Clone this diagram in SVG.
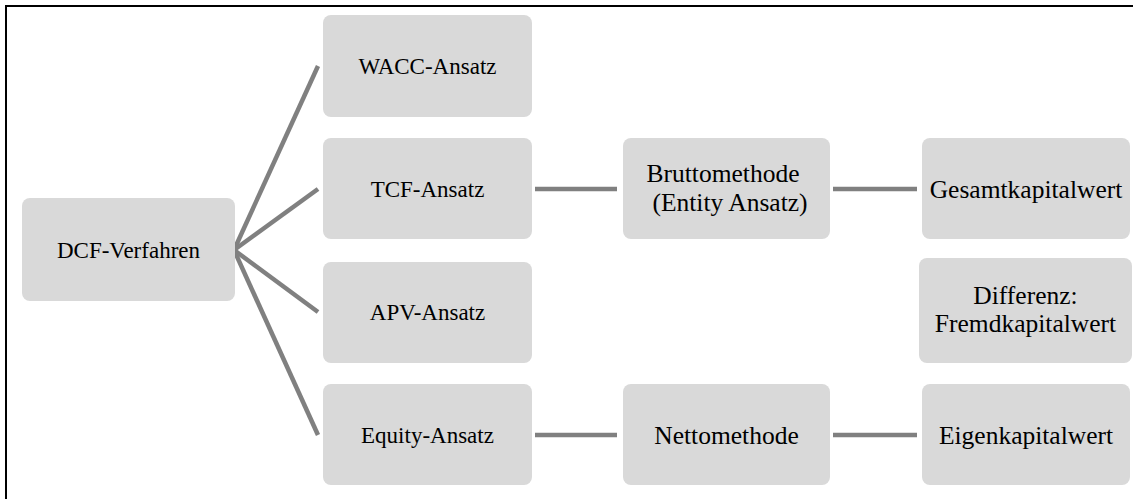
<svg xmlns="http://www.w3.org/2000/svg" width="1133" height="499" viewBox="0 0 1133 499">
<style>
.box{fill:#d9d9d9}
text{font-family:'Liberation Serif','Tinos','DejaVu Serif',serif;fill:#000;text-anchor:middle}
.s{font-size:23px}
.l{font-size:25.5px}
.c{stroke:#808080;stroke-width:4.5;fill:none}
</style>
<rect width="1133" height="499" fill="#fff"/>
<polyline points="6,499 6,6 1133,6" fill="none" stroke="#000" stroke-width="2"/>
<g id="connectors">
<line class="c" x1="234" y1="250" x2="318" y2="66"/>
<line class="c" x1="234" y1="250" x2="318" y2="189"/>
<line class="c" x1="234" y1="250" x2="318" y2="312"/>
<line class="c" x1="234" y1="250" x2="318" y2="435"/>
<line class="c" x1="535" y1="189" x2="617" y2="189"/>
<line class="c" x1="833" y1="189" x2="917" y2="189"/>
<line class="c" x1="535" y1="435" x2="617" y2="435"/>
<line class="c" x1="833" y1="435" x2="917" y2="435"/>
</g>
<g id="dcf"><rect class="box" x="22" y="198" width="213" height="103" rx="8"/><text class="s" font-family="Liberation Serif, serif" x="128.5" y="258">DCF-Verfahren</text></g>
<g id="wacc"><rect class="box" x="323" y="15" width="209" height="102" rx="8"/><text class="s" font-family="Liberation Serif, serif" x="427.5" y="74">WACC-Ansatz</text></g>
<g id="tcf"><rect class="box" x="323" y="138" width="209" height="101" rx="8"/><text class="s" font-family="Liberation Serif, serif" x="427.5" y="197">TCF-Ansatz</text></g>
<g id="apv"><rect class="box" x="323" y="262" width="209" height="101" rx="8"/><text class="s" font-family="Liberation Serif, serif" x="427.5" y="320">APV-Ansatz</text></g>
<g id="equity"><rect class="box" x="323" y="384" width="209" height="101" rx="8"/><text class="s" font-family="Liberation Serif, serif" x="427.5" y="443">Equity-Ansatz</text></g>
<g id="brutto"><rect class="box" x="623" y="138" width="207" height="101" rx="8"/><text class="l" font-family="Liberation Serif, serif" x="723" y="182">Bruttomethode</text><text class="l" font-family="Liberation Serif, serif" x="730" y="211">(Entity Ansatz)</text></g>
<g id="netto"><rect class="box" x="623" y="384" width="207" height="101" rx="8"/><text class="l" font-family="Liberation Serif, serif" x="726.5" y="444">Nettomethode</text></g>
<g id="gesamt"><rect class="box" x="922" y="138" width="208" height="101" rx="8"/><text class="l" font-family="Liberation Serif, serif" x="1026" y="198">Gesamtkapitalwert</text></g>
<g id="differenz"><rect class="box" x="919" y="258" width="213" height="105" rx="8"/><text class="l" font-family="Liberation Serif, serif" x="1025.5" y="304">Differenz:</text><text class="l" font-family="Liberation Serif, serif" x="1025.5" y="332">Fremdkapitalwert</text></g>
<g id="eigen"><rect class="box" x="922" y="384" width="208" height="101" rx="8"/><text class="l" font-family="Liberation Serif, serif" x="1026" y="444">Eigenkapitalwert</text></g>
</svg>
